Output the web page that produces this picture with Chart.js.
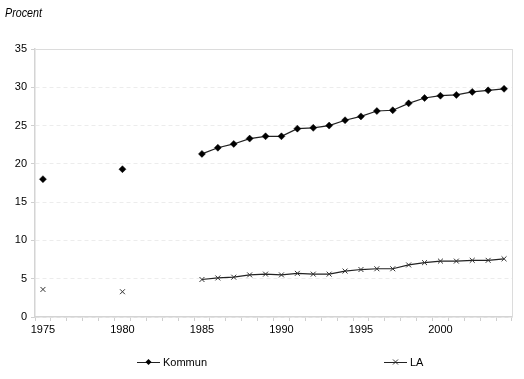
<!DOCTYPE html>
<html>
<head>
<meta charset="utf-8">
<script src="https://cdn.jsdelivr.net/npm/chart.js@4/dist/chart.umd.min.js"></script>
<style>
html,body{margin:0;padding:0;background:#fff;}
#wrap{position:relative;width:524px;height:379px;}
</style>
</head>
<body>
<div id="wrap"><canvas id="c" width="524" height="379"></canvas></div>
<script>
const years = [];
for (let y = 1975; y <= 2004; y++) years.push(String(y));

const kommun = [18.0, null, null, null, null, 19.3, null, null, null, null,
  21.3, 22.1, 22.6, 23.3, 23.6, 23.6, 24.6, 24.7, 25.0, 25.7,
  26.2, 26.9, 27.0, 27.9, 28.6, 28.9, 29.0, 29.4, 29.6, 29.8];
const la = [3.6, null, null, null, null, 3.3, null, null, null, null,
  4.9, 5.1, 5.2, 5.5, 5.6, 5.5, 5.7, 5.6, 5.6, 6.0,
  6.2, 6.3, 6.3, 6.8, 7.1, 7.3, 7.3, 7.4, 7.4, 7.6];
const yTicks = [0, 5, 10, 15, 20, 25, 30, 35];
const yAxisTitle = 'Procent';
const seriesNames = ['Kommun', 'LA'];

const FONT = "'Liberation Sans', Arial, sans-serif";

const extras = {
  id: 'extras',
  afterDraw(chart) {
    const ctx = chart.ctx;
    const a = chart.chartArea;
    ctx.save();
    // right border
    ctx.strokeStyle = '#dcdcdc';
    ctx.lineWidth = 1;
    ctx.beginPath();
    ctx.moveTo(a.right + 0.5, a.top);
    ctx.lineTo(a.right + 0.5, a.bottom);
    ctx.stroke();
    // axis title (condensed italic)
    ctx.save();
    ctx.fillStyle = '#000';
    ctx.font = "italic 12.5px 'Liberation Sans', Arial, sans-serif";
    ctx.textBaseline = 'middle';
    ctx.textAlign = 'left';
    ctx.translate(5, 14);
    ctx.scale(0.86, 1);
    ctx.fillText(yAxisTitle, 0, 0);
    ctx.restore();
    // legend
    const items = [
      {x: 137, text: seriesNames[0], style: 'diamond'},
      {x: 384, text: seriesNames[1], style: 'cross'}
    ];
    const ly = 362;
    items.forEach(it => {
      ctx.strokeStyle = '#222';
      ctx.lineWidth = 1;
      ctx.beginPath();
      ctx.moveTo(it.x, ly + 0.5);
      ctx.lineTo(it.x + 23, ly + 0.5);
      ctx.stroke();
      const cx = it.x + 11.5;
      if (it.style === 'diamond') {
        ctx.fillStyle = '#000';
        ctx.beginPath();
        ctx.moveTo(cx, ly - 3);
        ctx.lineTo(cx + 3, ly);
        ctx.lineTo(cx, ly + 3);
        ctx.lineTo(cx - 3, ly);
        ctx.closePath();
        ctx.fill();
      } else {
        ctx.strokeStyle = '#333';
        ctx.beginPath();
        ctx.moveTo(cx - 2.5, ly - 2.5); ctx.lineTo(cx + 2.5, ly + 2.5);
        ctx.moveTo(cx + 2.5, ly - 2.5); ctx.lineTo(cx - 2.5, ly + 2.5);
        ctx.stroke();
      }
      ctx.fillStyle = '#000';
      ctx.font = "11px " + FONT;
      ctx.textBaseline = 'middle';
      ctx.fillText(it.text, it.x + 26, ly + 1);
    });
    ctx.restore();
  }
};

new Chart(document.getElementById('c'), {
  type: 'line',
  data: {
    labels: years,
    datasets: [
      {
        label: seriesNames[0],
        data: kommun,
        borderColor: '#222',
        backgroundColor: '#000',
        borderWidth: 1.2,
        pointStyle: 'rectRot',
        pointRadius: 3.5,
        pointBorderWidth: 0.5,
        pointBorderColor: '#000',
        pointBackgroundColor: '#000',
        spanGaps: false,
        tension: 0
      },
      {
        label: seriesNames[1],
        data: la,
        borderColor: '#222',
        backgroundColor: '#222',
        borderWidth: 1.2,
        pointStyle: 'crossRot',
        pointRadius: 3.5,
        pointBorderWidth: 1,
        pointBorderColor: '#333',
        spanGaps: false,
        tension: 0
      }
    ]
  },
  options: {
    responsive: false,
    animation: false,
    devicePixelRatio: 1,
    layout: { padding: { top: 49, right: 12, bottom: 0, left: 0 } },
    plugins: {
      legend: { display: false },
      title: { display: false },
      tooltip: { enabled: false }
    },
    scales: {
      x: {
        type: 'category',
        offset: true,
        grid: {
          offset: true,
          drawOnChartArea: false,
          drawTicks: true,
          tickLength: 4,
          tickColor: '#cfcfcf',
          tickWidth: 1
        },
        border: { display: true, color: '#d4d4d4', width: 1.5 },
        ticks: {
          autoSkip: false,
          maxRotation: 0,
          padding: 2,
          color: '#000',
          font: { family: FONT, size: 11 },
          callback: function(v, i) {
            const lab = this.getLabelForValue(v);
            return (Number(lab) % 5 === 0) ? lab : '';
          }
        },
        afterFit(scale) { scale.height = 62; }
      },
      y: {
        min: 0,
        max: 35,
        afterBuildTicks(scale) { scale.ticks = yTicks.map(v => ({ value: v })); },
        grid: {
          color: ctx => (ctx.tick && ctx.tick.value === 35) ? '#dcdcdc' : '#ececec',
          lineWidth: 1,
          drawTicks: true,
          tickLength: 4,
          tickColor: '#cfcfcf'
        },
        border: {
          display: true,
          color: '#d4d4d4',
          width: 1.5,
          dash: ctx => (ctx.tick && ctx.tick.value === 35) ? [] : [4, 3]
        },
        ticks: {
          padding: 4,
          color: '#000',
          font: { family: FONT, size: 11 }
        },
        afterFit(scale) { scale.width = 35; }
      }
    }
  },
  plugins: [extras]
});
</script>
</body>
</html>
